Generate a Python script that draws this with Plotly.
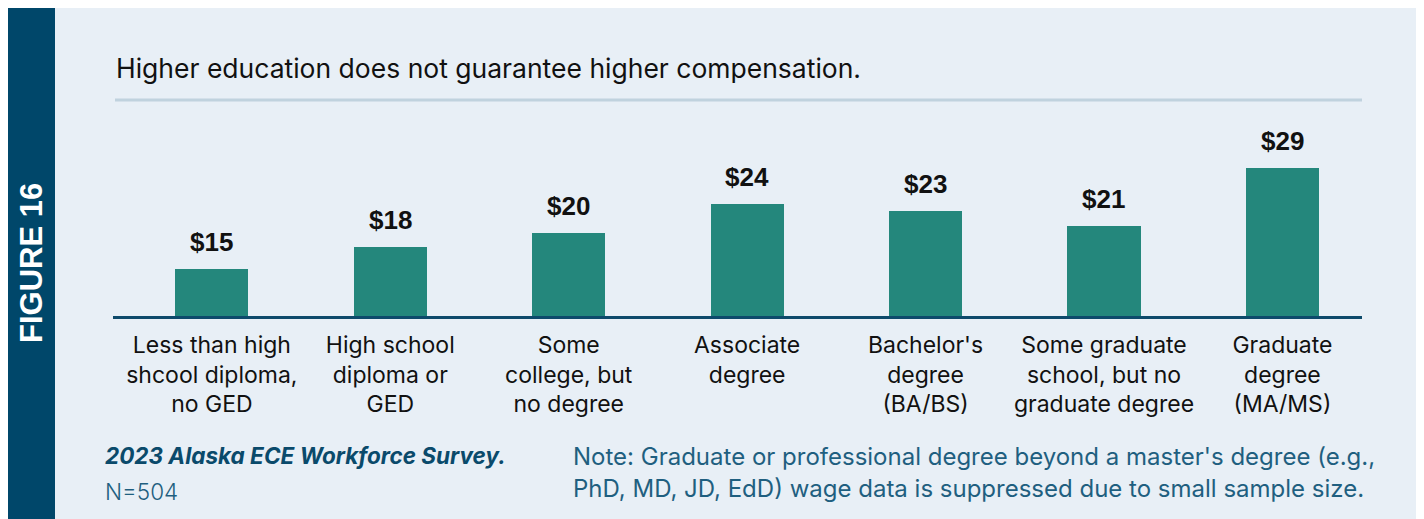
import plotly.graph_objects as go

categories = [
    "Less than high<br>shcool diploma,<br>no GED",
    "High school<br>diploma or<br>GED",
    "Some<br>college, but<br>no degree",
    "Associate<br>degree",
    "Bachelor's<br>degree<br>(BA/BS)",
    "Some graduate<br>school, but no<br>graduate degree",
    "Graduate<br>degree<br>(MA/MS)",
]
wages = [15, 18, 20, 24, 23, 21, 29]
wage_labels = ["$15", "$18", "$20", "$24", "$23", "$21", "$29"]

title_text = "Higher education does not guarantee higher compensation."
figure_label = "FIGURE 16"
source_text = "2023 Alaska ECE Workforce Survey."
n_text = "N=504"
note_lines = [
    "Note: Graduate or professional degree beyond a master's degree (e.g.,",
    "PhD, MD, JD, EdD) wage data is suppressed due to small sample size.",
]

BG = "#e8eff6"
BAND = "#00476a"
BAR = "#24877c"
AXIS = "#0d4a6b"
RULE = "#c0d2de"
NOTE = "#1f5f80"

OFF = 8  # page body margin
W, H = 1424, 519
# plot area in page pixels: x 113..1362, y 100..316
L = 113 - OFF
T = 100 - OFF
R = W - (1362 - OFF)
B = H - (316 - OFF)
PW, PH = W - L - R, H - T - B


def px_x(page_px):
    return (page_px - OFF - L) / PW


def px_y(page_py):
    return (H - B - (page_py - OFF)) / PH


fig = go.Figure()
fig.add_trace(go.Bar(
    x=list(range(len(categories))),
    y=wages,
    marker=dict(color=BAR, line=dict(width=0)),
    width=0.41,
    hoverinfo="skip",
))

annotations = []
for i, (v, lab) in enumerate(zip(wages, wage_labels)):
    annotations.append(dict(
        x=i, y=v, xref="x", yref="y", text=lab, showarrow=False,
        yanchor="bottom", yshift=10,
        font=dict(family="Liberation Sans", size=26, color="#111111", weight="bold"),
    ))

annotations += [
    dict(x=px_x(114), y=px_y(68), xref="paper", yref="paper", text=title_text,
         showarrow=False, xanchor="left", yanchor="middle",
         font=dict(family="Inter", size=26.5, color="#111111")),
    dict(x=px_x(31), y=px_y(263), xref="paper", yref="paper", text=figure_label,
         showarrow=False, textangle=-90, xanchor="center", yanchor="middle",
         font=dict(family="Liberation Sans", size=31, color="#ffffff", weight="bold")),
    dict(x=px_x(103), y=px_y(455), xref="paper", yref="paper", text="<b><i>" + source_text + "</i></b>",
         showarrow=False, xanchor="left", yanchor="middle",
         font=dict(family="Inter", size=22.5, color="#0a4a6b")),
    dict(x=px_x(103), y=px_y(491), xref="paper", yref="paper", text=n_text,
         showarrow=False, xanchor="left", yanchor="middle",
         font=dict(family="Inter", size=22.5, color=NOTE, weight=300)),
]
for k, line in enumerate(note_lines):
    annotations.append(dict(
        x=px_x(571), y=px_y(456 + 32 * k), xref="paper", yref="paper", text=line,
        showarrow=False, xanchor="left", yanchor="middle",
        font=dict(family="Inter", size=24, color=NOTE),
    ))

shapes = [
    # figure band
    dict(type="rect", xref="paper", yref="paper", x0=px_x(0), x1=px_x(55), y0=px_y(540), y1=px_y(0),
         fillcolor=BAND, line=dict(width=0), layer="below"),
    # top rule
    dict(type="line", xref="paper", yref="paper", x0=px_x(115), x1=px_x(1362), y0=px_y(100), y1=px_y(100),
         line=dict(color=RULE, width=3)),
]

fig.update_layout(
    width=W, height=H,
    margin=dict(l=L, r=R, t=T, b=B, pad=0),
    paper_bgcolor=BG, plot_bgcolor=BG,
    showlegend=False,
    annotations=annotations,
    shapes=shapes,
    bargap=0,
    xaxis=dict(
        tickmode="array", tickvals=list(range(len(categories))), ticktext=categories,
        range=[-0.554, 6.446], showgrid=False, zeroline=False,
        showline=True, linecolor=AXIS, linewidth=3,
        ticks="outside", ticklen=6, tickcolor="rgba(0,0,0,0)",
        tickfont=dict(family="Inter", size=23, color="#111111"),
        fixedrange=True,
    ),
    yaxis=dict(
        range=[8.4, 38.48], showgrid=False, zeroline=False, showticklabels=False,
        showline=False, fixedrange=True,
    ),
)

fig.write_html("out.html")
